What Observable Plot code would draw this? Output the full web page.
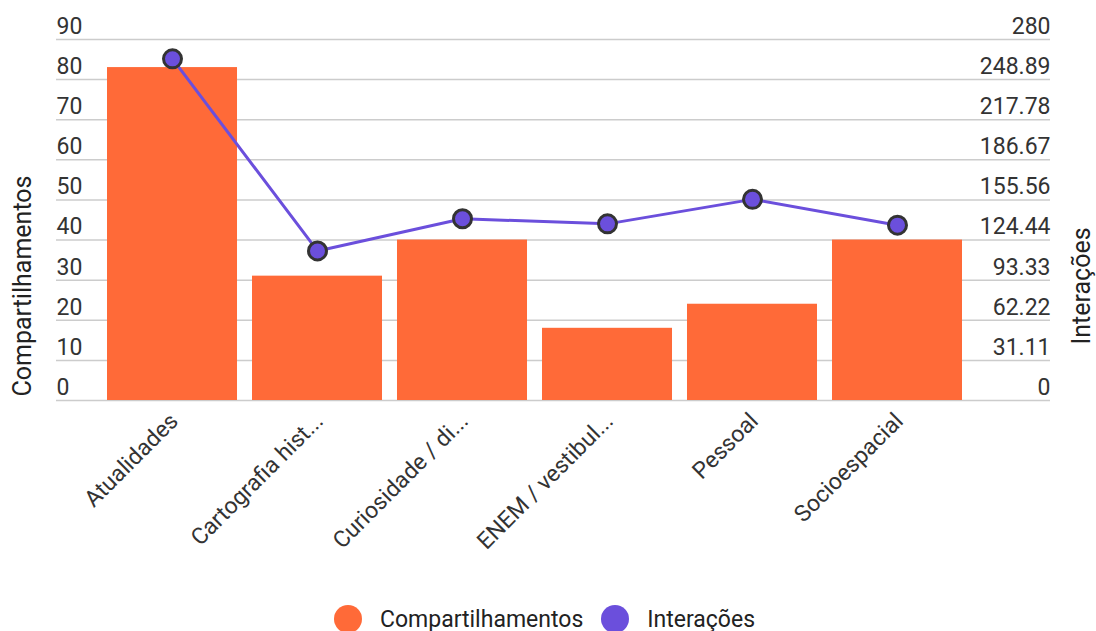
<!DOCTYPE html>
<html>
<head>
<meta charset="utf-8">
<script src="https://cdn.jsdelivr.net/npm/d3@7"></script>
<script src="https://cdn.jsdelivr.net/npm/@observablehq/plot@0.6"></script>
<style>
  html, body { margin: 0; padding: 0; background: #fff; overflow: hidden; }
  #chart { width: 1096px; height: 631px; position: relative; font-family: Roboto, sans-serif; }
  .legend { display: flex; justify-content: center; align-items: center; margin-top: 15px; font-size: 23px; color: #222; padding-right: 7px; }
  .legend .item { display: flex; align-items: center; margin: 0 9px; }
  .legend .sw { width: 28px; height: 28px; border-radius: 50%; margin-right: 18px; }
</style>
</head>
<body>
<div id="chart"></div>
<script>
const categories = ["Atualidades", "Cartografia hist...", "Curiosidade / di...", "ENEM / vestibul...", "Pessoal", "Socioespacial"];
const compartilhamentos = [83, 31, 40, 18, 24, 40];
const interacoes = [265, 116, 141, 137, 156, 136];
const leftTicks = [0, 10, 20, 30, 40, 50, 60, 70, 80, 90];
const rightTickLabels = ["0", "31.11", "62.22", "93.33", "124.44", "155.56", "186.67", "217.78", "248.89", "280"];
const leftMax = 90;
const rightMax = 280;

const orange = "#ff6a38";
const purple = "#6b4fdc";
const textColor = "#333";

const data = categories.map((c, i) => ({cat: c, comp: compartilhamentos[i], inter: interacoes[i]}));
const toLeft = v => v * leftMax / rightMax;

const plot = Plot.plot({
  width: 1096,
  height: 590,
  marginLeft: 56,
  marginRight: 46,
  marginTop: 39,
  marginBottom: 190,
  style: {fontFamily: "Roboto, sans-serif", fontSize: "23px", color: textColor, background: "#fff"},
  x: {domain: categories, paddingInner: 0.1034, paddingOuter: 0, insetLeft: 51, insetRight: 88, round: false, axis: null},
  y: {domain: [0, leftMax], axis: null},
  marks: [
    Plot.ruleY(leftTicks, {stroke: "#cccccc", strokeWidth: 1.5}),
    Plot.barY(data, {x: "cat", y: "comp", fill: orange}),
    Plot.line(data, {x: "cat", y: d => toLeft(d.inter), stroke: purple, strokeWidth: 3}),
    Plot.dot(data, {x: "cat", y: d => toLeft(d.inter), r: 9, fill: purple, stroke: "#333", strokeWidth: 3}),
    Plot.text(leftTicks, {y: d => d, text: d => String(d), frameAnchor: "left", textAnchor: "start", dy: -13, fill: textColor}),
    Plot.text(rightTickLabels, {y: d => toLeft(+d), text: d => d, frameAnchor: "right", textAnchor: "end", dy: -13, fill: textColor}),
    Plot.text(categories, {x: d => d, text: d => d, frameAnchor: "bottom", rotate: -45, textAnchor: "end", dx: 7, dy: 22, fill: textColor}),
    Plot.text(["Compartilhamentos"], {frameAnchor: "left", textAnchor: "middle", rotate: -90, fontSize: 25, dx: -34, dy: 66, fill: "#222"}),
    Plot.text(["Interações"], {frameAnchor: "right", textAnchor: "middle", rotate: -90, fontSize: 25, dx: 31, dy: 66, fill: "#222"})
  ]
});

const chart = document.getElementById("chart");
chart.appendChild(plot);

const legend = document.createElement("div");
legend.className = "legend";
[["Compartilhamentos", orange], ["Interações", purple]].forEach(([label, color]) => {
  const item = document.createElement("div");
  item.className = "item";
  const sw = document.createElement("span");
  sw.className = "sw";
  sw.style.background = color;
  const t = document.createElement("span");
  t.textContent = label;
  item.appendChild(sw);
  item.appendChild(t);
  legend.appendChild(item);
});
chart.appendChild(legend);
</script>
</body>
</html>
